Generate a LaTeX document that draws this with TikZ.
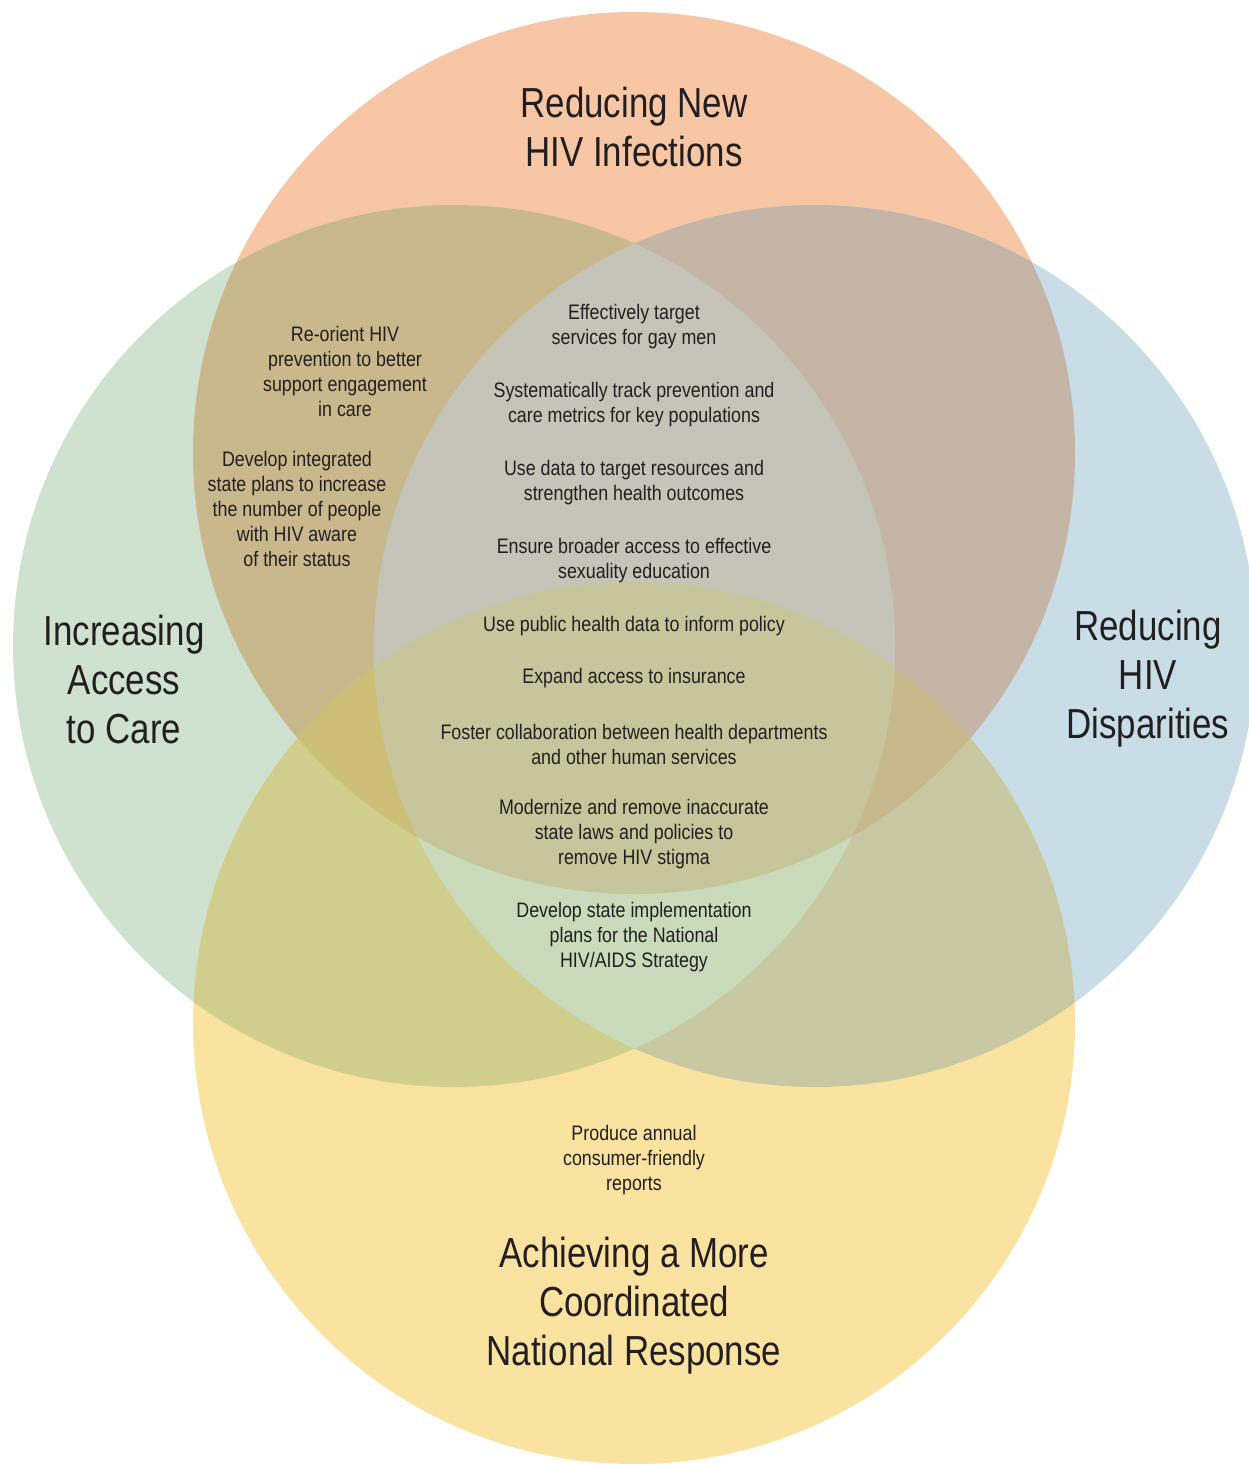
\documentclass[tikz,border=0pt]{standalone}
\usepackage{fontspec}
\setmainfont{Liberation Sans}[FakeStretch=0.8]
\newfontfamily\smallfam{Liberation Sans}[FakeStretch=0.85]
\newfontfamily\bigfam{Liberation Sans}[FakeStretch=0.83]
\definecolor{cT}{HTML}{F7C6A5}
\definecolor{cL}{HTML}{CFE2CF}
\definecolor{cR}{HTML}{C9DDE6}
\definecolor{cB}{HTML}{FAE3A0}
\definecolor{cTL}{HTML}{C8B88C}
\definecolor{cTR}{HTML}{C5B5A6}
\definecolor{cLR}{HTML}{C4C4B9}
\definecolor{cLB}{HTML}{D0CF8E}
\definecolor{cRB}{HTML}{C8C9A3}
\definecolor{cTB}{HTML}{C6C59B}
\definecolor{cTLR}{HTML}{C4C4B9}
\definecolor{cTLB}{HTML}{CDBE78}
\definecolor{cTRB}{HTML}{C8B98C}
\definecolor{cLRB}{HTML}{C9DBBB}
\definecolor{cTLRB}{HTML}{C6C59B}
\definecolor{ink}{HTML}{231F20}
\def\pT{(634,453) circle (441)}
\def\pL{(454,646) circle (441)}
\def\pR{(815,646) circle (441)}
\def\pB{(634,1023) circle (441)}
\tikzset{
  small/.style={align=center, inner sep=0pt, text=ink, font=\smallfam\fontsize{21}{25}\selectfont},
  big/.style={align=center, inner sep=0pt, text=ink, font=\bigfam\fontsize{42}{49}\selectfont},
}
\begin{document}
\begin{tikzpicture}[x=1pt,y=-1pt]
\useasboundingbox (0,0) rectangle (1249,1464);
\clip (0,0) rectangle (1249,1464);
\fill[white] (0,0) rectangle (1249,1464);
% single circles
\fill[cT] \pT;
\fill[cL] \pL;
\fill[cR] \pR;
\fill[cB] \pB;
% pairs
\begin{scope}\clip \pT; \fill[cTL] \pL; \end{scope}
\begin{scope}\clip \pT; \fill[cTR] \pR; \end{scope}
\begin{scope}\clip \pT; \fill[cTB] \pB; \end{scope}
\begin{scope}\clip \pL; \fill[cLR] \pR; \end{scope}
\begin{scope}\clip \pL; \fill[cLB] \pB; \end{scope}
\begin{scope}\clip \pR; \fill[cRB] \pB; \end{scope}
% triples
\begin{scope}\clip \pT; \clip \pL; \fill[cTLR] \pR; \end{scope}
\begin{scope}\clip \pT; \clip \pL; \fill[cTLB] \pB; \end{scope}
\begin{scope}\clip \pT; \clip \pR; \fill[cTRB] \pB; \end{scope}
\begin{scope}\clip \pL; \clip \pR; \fill[cLRB] \pB; \end{scope}
% quadruple
\begin{scope}\clip \pT; \clip \pL; \clip \pR; \fill[cTLRB] \pB; \end{scope}

% titles
\node[big] (tT) at (634,127) {Reducing New\\HIV Infections};
\node[big] (tL) at (124,679) {Increasing\\Access\\to Care};
\node[big] (tR) at (1148,679) {Reducing\\HIV\\Disparities};
\node[big] (tB) at (634,1306) {Achieving a More\\Coordinated\\National Response};

% items
\node[small] (a1) at (345,371) {Re-orient HIV\\prevention to better\\support engagement\\in care};
\node[small] (a2) at (297,509) {Develop integrated\\state plans to increase\\the number of people\\with HIV aware\\of their status};
\node[small] (c1) at (634,327) {Effectively target\\services for gay men};
\node[small] (c2) at (634,405) {Systematically track prevention and\\care metrics for key populations};
\node[small] (c3) at (634,483) {Use data to target resources and\\strengthen health outcomes};
\node[small] (c4) at (634,561) {Ensure broader access to effective\\sexuality education};
\node[small] (c5) at (634,626) {Use public health data to inform policy};
\node[small] (c6) at (634,678) {Expand access to insurance};
\node[small] (c7) at (634,744) {Foster collaboration between health departments\\and other human services};
\node[small] (c8) at (634,834) {Modernize and remove inaccurate\\state laws and policies to\\remove HIV stigma};
\node[small] (c9) at (634,937) {Develop state implementation\\plans for the National\\HIV/AIDS Strategy};
\node[small] (b1) at (634,1160) {Produce annual\\consumer-friendly\\reports};
\end{tikzpicture}
\end{document}
